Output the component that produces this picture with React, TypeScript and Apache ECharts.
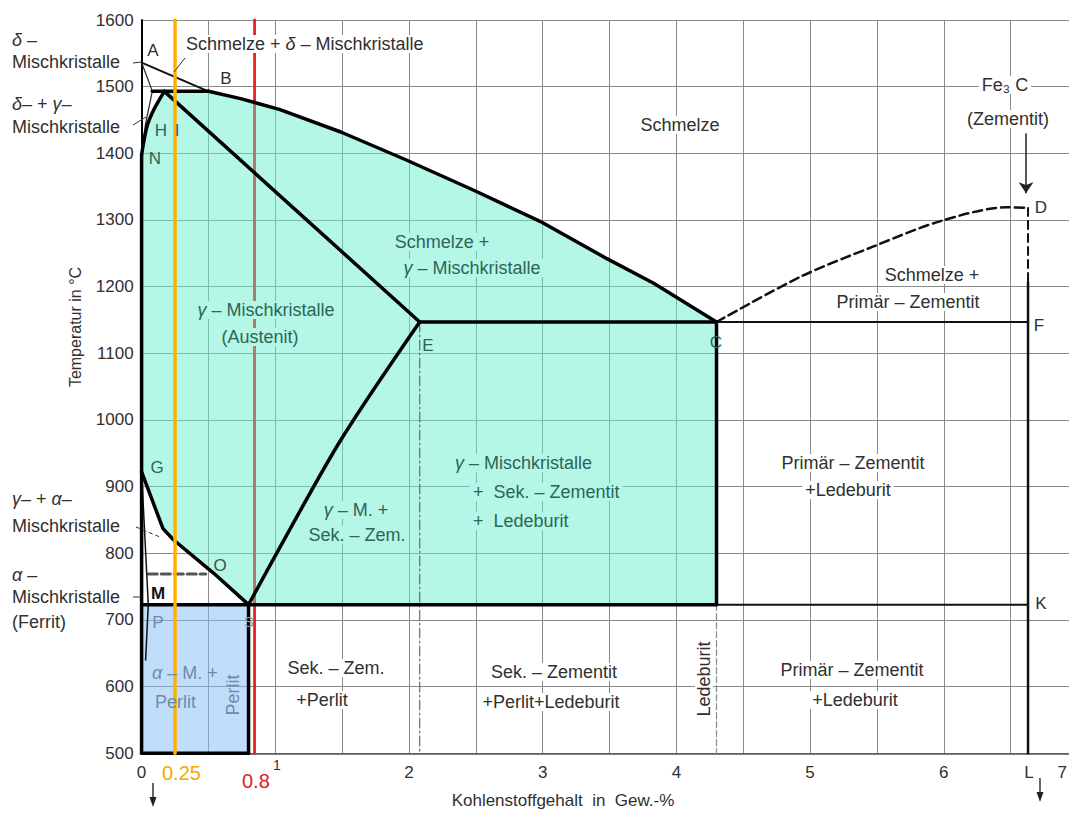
import React, { useEffect, useRef } from "react";
import * as echarts from "echarts";

// ---------- axes ----------
const X_MIN = 0;
const X_MAX = 7;
const X_STEP = 0.5;
const Y_MIN = 500;
const Y_MAX = 1600;
const Y_STEP = 100;

// ---------- phase boundaries [C in wt-%, T in °C] ----------
const liquidusAB = [[0, 1536], [0.5, 1493]];
const deltaSolidusAH = [[0, 1536], [0.04, 1515], [0.08, 1493]];
const deltaNH = [[0, 1400], [0.03, 1445], [0.08, 1493]];
const curveNI = [[0, 1398], [0.04, 1440], [0.09, 1465], [0.17, 1493]];
const peritecticHB = [[0.08, 1493], [0.5, 1493]];
const liquidusBC = [[0.5, 1493], [0.74, 1482], [1.03, 1466], [1.49, 1432], [1.98, 1390], [2.48, 1345], [2.98, 1298], [3.48, 1242], [3.83, 1205], [4.3, 1147]];
const solidusIE = [[0.17, 1493], [2.08, 1147]];
const eutecticEC = [[2.08, 1147], [4.3, 1147]];
const eutecticCF = [[4.3, 1147], [6.63, 1147]];
const lineC723 = [[4.3, 1147], [4.3, 723]];
const eutectoidPS = [[0, 723], [4.3, 723]];
const eutectoidSK = [[4.3, 723], [6.63, 723]];
const curveES = [[0.8, 723], [1.01, 800], [1.49, 970], [2.08, 1147]];
const curveGS = [[0, 922], [0.16, 837], [0.24, 820], [0.54, 770], [0.8, 723]];
const curveGPQ = [[0, 922], [0.05, 723], [0.03, 640]];
const lineMO = [[0.05, 769], [0.48, 769]];
const liquidusCD = [[4.3, 1147], [4.93, 1215], [5.47, 1260], [5.97, 1298], [6.47, 1319], [6.63, 1318]];
const lineDdashed = [[6.63, 1318], [6.63, 1207]];
const lineL = [[6.63, 1207], [6.63, 500]];
const lineE = [[2.08, 1147], [2.08, 500]];
const lineLedeburit = [[4.3, 723], [4.3, 500]];
const axisThick = [[0, 1398], [0, 500]];
const perlitRight = [[0.8, 723], [0.8, 500]];
const perlitBottom = [[0, 500], [0.8, 500]];
const arrowD = [[6.615, 1430], [6.615, 1340]];
const dotPoint = [[1.28, 628]];

// ---------- marker lines ----------
const ORANGE_X = 0.25;
const RED_X = 0.845;
const RED_TEAL_TOP = 1474;
const RED_TEAL_BOTTOM = 723;

// ---------- regions ----------
const tealRegion = [...curveNI, ...liquidusBC, [4.3, 723], ...[...curveGS].reverse()];
const blueRegion = [[0.01, 723], [0.8, 723], [0.8, 500], [0.01, 500]];

// ---------- styles ----------
const FONT = "'Liberation Sans', 'DejaVu Sans', sans-serif";
const TXT = "#303030";
const TEAL_TXT = "#2d6557";
const BLUE_TXT = "#6d8cad";
const TEAL_BG = "#b4f7e6";
const GRID = "#8a8a8a";

const rich = (color: string, size: number) => ({
  g: { fontStyle: "italic", fontSize: size, fontFamily: FONT, fill: color },
});

type TO = { align?: string; color?: string; size?: number; bg?: string; rot?: number; bold?: boolean };
const txt = (text: string, x: number, y: number, o: TO = {}) => {
  const size = o.size || 18;
  const color = o.color || TXT;
  const style: any = {
    text,
    fill: color,
    fontSize: size,
    fontFamily: FONT,
    fontWeight: o.bold ? "bold" : "normal",
    align: o.align || "center",
    verticalAlign: "middle",
    rich: rich(color, size),
  };
  if (o.bg) {
    style.backgroundColor = o.bg;
    style.padding = [0, 3];
  }
  return { type: "text", x, y, z: 100, rotation: o.rot || 0, silent: true, style };
};
const seg = (x1: number, y1: number, x2: number, y2: number, w = 1, dash?: number[]) => ({
  type: "line",
  z: 100,
  silent: true,
  shape: { x1, y1, x2, y2 },
  style: { stroke: "#333", lineWidth: w, lineDash: dash },
});
const head = (x: number, y: number) => ({
  type: "polygon",
  z: 100,
  silent: true,
  shape: { points: [[x - 3.5, y - 10], [x + 3.5, y - 10], [x, y]] },
  style: { fill: "#222" },
});

const line = (data: number[][], width: number, color = "#000", type: any = "solid", z = 5, smooth: any = false) => ({
  type: "line",
  data,
  symbol: "none",
  smooth,
  z,
  silent: true,
  clip: false,
  lineStyle: { width, color, type, cap: "round", join: "round" },
});
const region = (pts: number[][], fill: string, opacity: number, z: number) => ({
  type: "custom",
  coordinateSystem: "cartesian2d",
  z,
  silent: true,
  clip: false,
  data: [pts[0]],
  renderItem: (_p: any, api: any) => ({
    type: "polygon",
    shape: { points: pts.map((p) => api.coord(p)) },
    style: { fill, opacity },
  }),
});

const W = "#ffffff";

const graphics = [
  // left margin labels
  txt("{g|δ} –", 12, 40, { align: "left" }),
  txt("Mischkristalle", 12, 62, { align: "left" }),
  txt("{g|δ}– + {g|γ}–", 12, 104, { align: "left" }),
  txt("Mischkristalle", 12, 127, { align: "left" }),
  txt("{g|γ}– + {g|α}–", 12, 499, { align: "left" }),
  txt("Mischkristalle", 12, 526, { align: "left" }),
  txt("{g|α} –", 12, 575, { align: "left" }),
  txt("Mischkristalle", 12, 597, { align: "left" }),
  txt("(Ferrit)", 12, 622, { align: "left" }),
  seg(133, 63, 141, 62),
  seg(133, 125, 146, 117),
  seg(185, 58, 174, 72),
  seg(136, 527, 160, 537, 1, [4, 3]),
  seg(133, 597, 141, 597),
  // upper area
  txt("Schmelze + {g|δ} – Mischkristalle", 183, 44, { align: "left", bg: W }),
  txt("A", 153, 50, { size: 17 }),
  txt("B", 226, 78, { size: 17 }),
  txt("H", 161, 130, { size: 17, color: TEAL_TXT }),
  txt("I", 177, 130, { size: 17, color: TEAL_TXT }),
  txt("N", 155, 158, { size: 17, color: TEAL_TXT }),
  txt("Schmelze", 680, 125, { bg: W }),
  txt("Fe₃ C", 1005, 85, { bg: W }),
  txt("(Zementit)", 1008, 119, { bg: W }),
  txt("D", 1041, 207, { size: 17 }),
  txt("Schmelze +", 932, 275, { bg: W }),
  txt("Primär – Zementit", 908, 302, { bg: W }),
  txt("F", 1039, 325, { size: 17 }),
  // teal area
  txt("Schmelze +", 442, 242, { color: TEAL_TXT, bg: TEAL_BG }),
  txt("{g|γ} – Mischkristalle", 472, 268, { color: TEAL_TXT, bg: TEAL_BG }),
  txt("{g|γ} – Mischkristalle", 266, 310, { color: TEAL_TXT, bg: TEAL_BG }),
  txt("(Austenit)", 260, 337, { color: TEAL_TXT, bg: TEAL_BG }),
  txt("E", 428, 345, { size: 17, color: TEAL_TXT }),
  txt("C", 716, 342, { size: 17, color: TEAL_TXT }),
  txt("{g|γ} – Mischkristalle", 452, 463, { align: "left", color: TEAL_TXT, bg: TEAL_BG }),
  txt("+  Sek. – Zementit", 470, 492, { align: "left", color: TEAL_TXT, bg: TEAL_BG }),
  txt("+  Ledeburit", 470, 521, { align: "left", color: TEAL_TXT, bg: TEAL_BG }),
  txt("{g|γ} – M. +", 356, 510, { color: TEAL_TXT, bg: TEAL_BG }),
  txt("Sek. – Zem.", 357, 535, { color: TEAL_TXT, bg: TEAL_BG }),
  txt("G", 157, 467, { size: 17, color: TEAL_TXT }),
  txt("O", 220, 565, { size: 17, color: "#4a4a4a" }),
  txt("M", 158, 593, { size: 17, bold: true, color: "#111" }),
  // lower area
  txt("P", 158, 622, { size: 17, color: BLUE_TXT }),
  txt("S", 249, 621, { size: 15, color: "#8a9aaa" }),
  txt("{g|α} – M. +", 152, 673, { align: "left", color: BLUE_TXT }),
  txt("Perlit", 155, 702, { align: "left", color: BLUE_TXT }),
  txt("Perlit", 233, 695, { color: BLUE_TXT, rot: Math.PI / 2 }),
  txt("Sek. – Zem.", 336, 668, { bg: W }),
  txt("+Perlit", 322, 700, { bg: W }),
  txt("Sek. – Zementit", 554, 672, { bg: W }),
  txt("+Perlit+Ledeburit", 551, 702, { bg: W }),
  txt("Ledeburit", 704, 679, { rot: Math.PI / 2, bg: W }),
  txt("Primär – Zementit", 853, 463, { bg: W }),
  txt("+Ledeburit", 848, 490, { bg: W }),
  txt("Primär – Zementit", 852, 670, { bg: W }),
  txt("+Ledeburit", 855, 700, { bg: W }),
  txt("K", 1041, 603, { size: 17 }),
  // axis extras
  txt("0.25", 162, 773, { align: "left", size: 20, color: "#f5a800" }),
  txt("0.8", 242, 781, { align: "left", size: 20, color: "#e0201c" }),
  txt("1", 277, 765, { size: 14 }),
  txt("7", 1067, 772, { size: 17, align: "right" }),
  txt("L", 1029, 772, { size: 17 }),
  seg(153, 783, 153, 798, 1.5),
  head(153, 807),
  seg(1040, 778, 1040, 793, 1.5),
  head(1040, 802),
  txt("Kohlenstoffgehalt  in  Gew.-%", 563, 800, { size: 17 }),
  txt("Temperatur in °C", 75, 327, { size: 16, rot: Math.PI / 2 }),
];

const option: any = {
  animation: false,
  backgroundColor: "#ffffff",
  grid: {
    left: 141.6,
    right: -8.5,
    top: 20,
    bottom: 59.7,
    containLabel: false,
    outerBoundsMode: "none",
  },
  xAxis: {
    type: "value",
    min: X_MIN,
    max: X_MAX,
    interval: X_STEP,
    axisLine: { show: true, onZero: false, lineStyle: { color: "#555", width: 1.5 } },
    axisTick: { show: false },
    splitLine: { show: true, lineStyle: { color: GRID, width: 1 } },
    axisLabel: {
      color: TXT,
      fontSize: 17,
      fontFamily: FONT,
      margin: 11,
      showMinLabel: true,
      showMaxLabel: false,
      hideOverlap: false,
      formatter: (v: number) => (Number.isInteger(v) && v !== 1 && v !== X_MAX ? String(v) : ""),
    },
  },
  yAxis: {
    type: "value",
    min: Y_MIN,
    max: Y_MAX,
    interval: Y_STEP,
    axisLine: { show: true, onZero: false, lineStyle: { color: "#000", width: 2 } },
    axisTick: { show: false },
    splitLine: { show: true, lineStyle: { color: GRID, width: 1 } },
    axisLabel: {
      color: TXT,
      fontSize: 17,
      fontFamily: FONT,
      margin: 8,
      formatter: (v: number) => String(v),
    },
  },
  series: [
    line([[RED_X, Y_MAX], [RED_X, Y_MIN]], 2.8, "#e8231e", "solid", 1),
    region(tealRegion, "rgb(105,240,205)", 0.5, 2),
    region(blueRegion, "rgb(130,190,245)", 0.5, 2),
    line([[RED_X, RED_TEAL_TOP], [RED_X, RED_TEAL_BOTTOM]], 2.8, "#b07a6a", "solid", 3),
    line(lineE, 1.2, "#6a6a6a", [10, 3, 2, 3], 4),
    line(lineLedeburit, 1.2, "#8a8a8a", [6, 3], 4),
    line(lineMO, 3, "#555", [9, 4], 4),
    // thin lines
    line(deltaSolidusAH, 1.2, "#222", "solid", 5, 0.4),
    line(deltaNH, 1.2, "#222", "solid", 5),
    line(curveGPQ, 1.5, "#111", "solid", 5),
    // medium lines
    line(liquidusAB, 2, "#111", "solid", 5),
    line(eutecticCF, 2, "#111", "solid", 5),
    line(eutectoidSK, 2, "#111", "solid", 5),
    line(lineL, 2.5, "#111", "solid", 5),
    line(liquidusCD, 2.5, "#111", [9, 5], 5, 0.3),
    line(lineDdashed, 2, "#111", [8, 5], 5),
    // thick lines
    line(axisThick, 3.5, "#000"),
    line(curveNI, 3.5, "#000", "solid", 5, 0.3),
    line(peritecticHB, 3.5, "#000"),
    line(liquidusBC, 3.5, "#000"),
    line(solidusIE, 3.5, "#000"),
    line(eutecticEC, 3.5, "#000"),
    line(lineC723, 3.5, "#000"),
    line(eutectoidPS, 3.5, "#000"),
    line(curveES, 3.5, "#000", "solid", 5, 0.3),
    line(curveGS, 3.5, "#000"),
    line(perlitRight, 3.5, "#000"),
    line(perlitBottom, 3.5, "#000"),
    // overlays
    line([[ORANGE_X, Y_MAX], [ORANGE_X, Y_MIN]], 3.5, "#ffb000", "solid", 7),
    {
      type: "lines",
      coordinateSystem: "cartesian2d",
      z: 6,
      silent: true,
      symbol: ["none", "arrow"],
      symbolSize: 11,
      lineStyle: { color: "#222", width: 1.5, opacity: 1 },
      data: [{ coords: arrowD }],
    },
    {
      type: "scatter",
      z: 6,
      silent: true,
      symbolSize: 13,
      itemStyle: { color: "#111" },
      data: dotPoint,
    },
  ],
  graphic: graphics,
};

export default function App() {
  const ref = useRef<HTMLDivElement>(null);
  useEffect(() => {
    const chart = echarts.init(ref.current as HTMLDivElement, undefined, { renderer: "svg" });
    chart.setOption(option);
    return () => chart.dispose();
  }, []);
  return (
    <div
      ref={ref}
      style={{ position: "fixed", left: 0, top: 0, width: 1069, height: 813, background: "#fff" }}
    />
  );
}
